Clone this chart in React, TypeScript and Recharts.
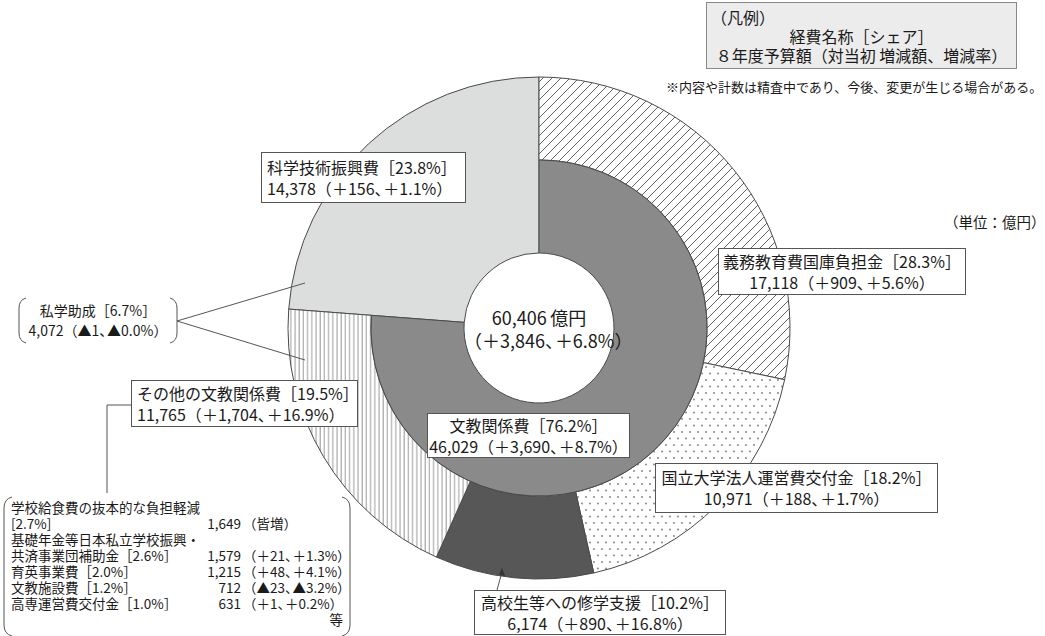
import React from "react"
import { PieChart, Pie, Cell } from "recharts"

// 予算の内訳（単位：億円）
const totalAmount = "60,406\u2009億円"
const totalChange = "＋3,846"
const totalRate = "＋6.8%"

const innerNames = ["文教関係費", "科学技術振興費"]
const innerShares = [76.2, 23.8]
const innerAmounts = ["46,029", "14,378"]
const innerChanges = ["＋3,690", "＋156"]
const innerRates = ["＋8.7%", "＋1.1%"]

const outerNames = ["義務教育費国庫負担金", "国立大学法人運営費交付金", "高校生等への修学支援", "その他の文教関係費", "科学技術振興費"]
const outerShares = [28.3, 18.2, 10.2, 19.5, 23.8]
const outerAmounts = ["17,118", "10,971", "6,174", "11,765", "14,378"]
const outerChanges = ["＋909", "＋188", "＋890", "＋1,704", "＋156"]
const outerRates = ["＋5.6%", "＋1.7%", "＋16.8%", "＋16.9%", "＋1.1%"]

const privateAid = { name: "私学助成", share: "6.7%", amount: "4,072", change: "▲1", rate: "▲0.0%" }

const detailNames = ["学校給食費の抜本的な負担軽減", "基礎年金等日本私立学校振興・共済事業団補助金", "育英事業費", "文教施設費", "高専運営費交付金"]
const detailShares = ["2.7%", "2.6%", "2.0%", "1.2%", "1.0%"]
const detailAmounts = ["1,649", "1,579", "1,215", "712", "631"]
const detailChanges = ["", "＋21", "＋48", "▲23", "＋1"]
const detailRates = ["皆増", "＋1.3%", "＋4.1%", "▲3.2%", "＋0.2%"]

const W = 1045
const H = 636
const CX = 539
const CY = 328
const R_HOLE = 75
const R_MID = 168
const R_OUT = 251

const FONT = '"Noto Sans CJK JP", "Noto Sans", sans-serif'
const TEXT = "#1a1a1a"
const EDGE = "#4a4a4a"

const innerData = innerNames.map((name, i) => ({ name, value: innerShares[i] }))
const outerData = outerNames.map((name, i) => ({ name, value: outerShares[i] }))

const outerFills = ["url(#hatch)", "url(#dots)", "#575757", "url(#vstripe)", "none"]

const shareText = (name: string, share: number) => `${name}［${share.toFixed(1)}%］`

// 「、」の後ろを詰める
function Amount({ a, c, r }: { a?: string; c: string; r: string }) {
  return (
    <>
      {a}（{c ? <>{c}<span style={{ letterSpacing: "-0.45em" }}>、</span></> : null}{r}）
    </>
  )
}

function Box({ x, y, w, h, idx, inner = false, align = "center" }: { x: number; y: number; w: number; h: number; idx: number; inner?: boolean; align?: "center" | "left" }) {
  const name = inner ? innerNames[idx] : outerNames[idx]
  const share = inner ? innerShares[idx] : outerShares[idx]
  const a = inner ? innerAmounts[idx] : outerAmounts[idx]
  const c = inner ? innerChanges[idx] : outerChanges[idx]
  const r = inner ? innerRates[idx] : outerRates[idx]
  return (
    <div
      style={{
        position: "absolute", left: x, top: y, width: w, height: h, boxSizing: "border-box",
        border: "1px solid #555", background: "#fff", display: "flex", flexDirection: "column",
        justifyContent: "center", alignItems: align === "center" ? "center" : "flex-start",
        padding: align === "center" ? 0 : "0 5px", fontSize: 16, lineHeight: "21px", color: TEXT, whiteSpace: "nowrap",
      }}
    >
      <div>{shareText(name, share)}</div>
      <div><Amount a={a} c={c} r={r} /></div>
    </div>
  )
}

export default function App() {
  const detailRows: { left: string; i?: number }[] = [
    { left: detailNames[0] },
    { left: `[${detailShares[0]}]`, i: 0 },
    { left: "基礎年金等日本私立学校振興・" },
    { left: `共済事業団補助金［${detailShares[1]}］`, i: 1 },
    { left: `${detailNames[2]}［${detailShares[2]}］`, i: 2 },
    { left: `${detailNames[3]}［${detailShares[3]}］`, i: 3 },
    { left: `${detailNames[4]}［${detailShares[4]}］`, i: 4 },
  ]

  return (
    <div style={{ position: "absolute", left: 0, top: 0, width: W, height: H, background: "#fff", fontFamily: FONT, overflow: "hidden" }}>
      <svg width={0} height={0} style={{ position: "absolute" }}>
        <defs>
          <pattern id="hatch" patternUnits="userSpaceOnUse" width={9} height={9}>
            <rect width={9} height={9} fill="#fff" />
            <path d="M-1,10 L10,-1 M-1,1 L1,-1 M8,10 L10,8" stroke="#3a3a3a" strokeWidth={0.8} />
          </pattern>
          <pattern id="dots" patternUnits="userSpaceOnUse" width={8} height={13}>
            <rect width={8} height={13} fill="#fff" />
            <circle cx={2} cy={3} r={0.9} fill="#7a7a7a" />
            <circle cx={6} cy={9.5} r={0.9} fill="#7a7a7a" />
          </pattern>
          <pattern id="vstripe" patternUnits="userSpaceOnUse" width={4.2} height={10}>
            <rect width={4.2} height={10} fill="#fff" />
            <line x1={1} y1={0} x2={1} y2={10} stroke="#9a9a9a" strokeWidth={1} />
          </pattern>
        </defs>
      </svg>

      <PieChart width={W} height={H} margin={{ top: 0, right: 0, bottom: 0, left: 0 }} style={{ position: "absolute", left: 0, top: 0 }}>
        <Pie data={innerData} dataKey="value" cx={CX} cy={CY} innerRadius={R_HOLE} outerRadius={R_OUT}
          startAngle={90} endAngle={-270} isAnimationActive={false}>
          <Cell fill="none" stroke="none" />
          <Cell fill="#dcdedd" stroke={EDGE} strokeWidth={1} />
        </Pie>
        <Pie data={outerData} dataKey="value" cx={CX} cy={CY} innerRadius={R_MID} outerRadius={R_OUT}
          startAngle={90} endAngle={-270} isAnimationActive={false}>
          {outerFills.map((f, i) => (
            <Cell key={i} fill={f} stroke={f === "none" ? "none" : EDGE} strokeWidth={1} />
          ))}
        </Pie>
        <Pie data={innerData} dataKey="value" cx={CX} cy={CY} innerRadius={R_HOLE} outerRadius={R_MID}
          startAngle={90} endAngle={-270} isAnimationActive={false}>
          <Cell fill="#8a8a8a" stroke={EDGE} strokeWidth={1} />
          <Cell fill="none" stroke="none" />
        </Pie>
      </PieChart>

      <svg width={W} height={H} style={{ position: "absolute", left: 0, top: 0, pointerEvents: "none" }}>
        <g fill="none" stroke="#555" strokeWidth={1}>
          <path d="M26,298 Q19,300 19,308 L19,333 Q19,341 26,343" />
          <path d="M170,298 Q177,300 177,308 L177,333 Q177,341 170,343" />
          <path d="M177,321 L305,283 M177,321 L305,360" />
          <path d="M131,405 L107,405 L107,493" />
          <path d="M12,497 Q4,499 4,508 L4,625 Q4,634 12,636" />
          <path d="M342,497 Q350,499 350,508 L350,625 Q350,634 342,636" />
          <path d="M497,590 L502,572" />
        </g>
        <path d="M502,568 L505,576 L499,575 Z" fill="#333" />
      </svg>

      {/* 凡例 */}
      <div style={{ position: "absolute", left: 706, top: 2, width: 311, height: 67, boxSizing: "border-box", border: "1px solid #888", background: "#ececec", color: TEXT, fontSize: 16, lineHeight: "19px", paddingTop: 5 }}>
        <div style={{ paddingLeft: 4 }}>（凡例）</div>
        <div style={{ textAlign: "center" }}>経費名称［シェア］</div>
        <div style={{ textAlign: "center" }}>８年度予算額（対当初 増減額、増減率）</div>
      </div>
      <div style={{ position: "absolute", left: 666, top: 77, fontSize: 13, color: TEXT, whiteSpace: "nowrap" }}>※内容や計数は精査中であり、今後、変更が生じる場合がある。</div>
      <div style={{ position: "absolute", left: 944, top: 211, fontSize: 14.5, color: TEXT, whiteSpace: "nowrap" }}>（単位：億円）</div>

      {/* 中央 */}
      <div style={{ position: "absolute", left: CX - 75, top: 306, width: 150, textAlign: "center", fontSize: 18, lineHeight: "23px", color: TEXT, whiteSpace: "nowrap" }}>
        <div>{totalAmount}</div>
        <div><Amount c={totalChange} r={totalRate} /></div>
      </div>

      <Box x={261} y={152} w={205} h={51} idx={1} inner align="left" />
      <Box x={718} y={248} w={248} h={47} idx={0} />
      <Box x={131} y={380} w={227} h={47} idx={3} align="left" />
      <Box x={427} y={413} w={203} h={45} idx={0} inner />
      <Box x={655} y={463} w={283} h={50} idx={1} />
      <Box x={474} y={590} w={252} h={45} idx={2} />

      {/* 私学助成 */}
      <div style={{ position: "absolute", left: 22, top: 300, width: 152, textAlign: "center", fontSize: 14, lineHeight: "20px", color: TEXT, whiteSpace: "nowrap" }}>
        <div>{`${privateAid.name}［${privateAid.share}］`}</div>
        <div><Amount a={privateAid.amount} c={privateAid.change} r={privateAid.rate} /></div>
      </div>

      {/* その他内訳 */}
      <div style={{ position: "absolute", left: 11, top: 499, width: 336, fontSize: 13.5, lineHeight: "16px", color: TEXT, whiteSpace: "nowrap" }}>
        {detailRows.map((row, k) => (
          <div key={k} style={{ position: "relative", height: 16 }}>
            <span>{row.left}</span>
            {row.i !== undefined && <span style={{ position: "absolute", right: 106, top: 0 }}>{detailAmounts[row.i]}</span>}
            {row.i !== undefined && (
              <span style={{ position: "absolute", left: 232, top: 0 }}>
                <Amount c={detailChanges[row.i]} r={detailRates[row.i]} />
              </span>
            )}
          </div>
        ))}
        <div style={{ textAlign: "right", paddingRight: 4 }}>等</div>
      </div>
    </div>
  )
}
